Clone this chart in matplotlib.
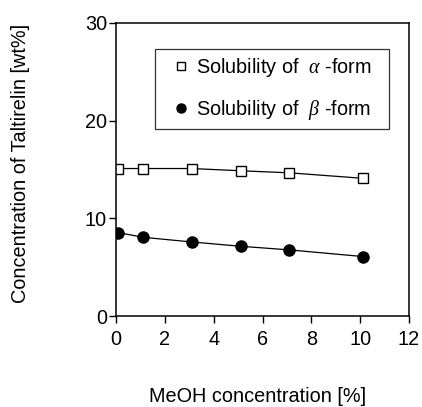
import matplotlib
matplotlib.use("Agg")
import matplotlib.pyplot as plt
from matplotlib.lines import Line2D

plt.rcParams['font.family'] = ['Liberation Sans', 'DejaVu Sans']
plt.rcParams['mathtext.fontset'] = 'custom'
plt.rcParams['mathtext.it'] = 'Liberation Serif:italic'

meoh = [0.1, 1.1, 3.1, 5.1, 7.1, 10.1]
alpha_form = [15.1, 15.1, 15.1, 14.87, 14.66, 14.1]
beta_form = [8.54, 8.06, 7.58, 7.14, 6.77, 6.09]
xticks = [0, 2, 4, 6, 8, 10, 12]
yticks = [0, 10, 20, 30]
labels = ['Solubility of  $\\alpha$ -form', 'Solubility of  $\\beta$ -form']

FS = 14.3
W, H = 422, 407
fig = plt.figure(figsize=(W / 100, H / 100), dpi=100)
ax = fig.add_axes([116 / W, 1 - 316 / H, (409 - 116) / W, (316 - 23) / H])

ax.plot(meoh, alpha_form, '-', color='black', lw=0.9, marker='s', ms=7,
        mfc='white', mec='black', mew=1.0, label=labels[0])
ax.plot(meoh, beta_form, '-', color='black', lw=0.9, marker='o', ms=8,
        mfc='black', mec='black', label=labels[1])

ax.set_xlim(0, 12)
ax.set_ylim(0, 30)
ax.set_xticks(xticks)
ax.set_yticks(yticks)
ax.tick_params(direction='out', length=5, width=1.0, labelsize=FS, color='black')
ax.tick_params(axis='x', pad=5)
ax.tick_params(axis='y', pad=1.5)
for s in ax.spines.values():
    s.set_linewidth(1.1)

handles = [
    Line2D([], [], ls='none', marker='s', ms=5.5, mfc='white', mec='black', mew=1.0),
    Line2D([], [], ls='none', marker='o', ms=6.5, mfc='black', mec='black'),
]
x0 = (155 - 116) / 293
x1 = (389 - 116) / 293
ytop = (316 - 49) / 293
ybot = (316 - 118) / 293
leg = ax.legend(handles, labels, loc='upper left',
                bbox_to_anchor=(x0, ybot, x1 - x0, ytop - ybot), mode='expand',
                borderaxespad=0, fontsize=FS, frameon=True, fancybox=False,
                edgecolor='black', handlelength=1.9, handletextpad=-0.2,
                labelspacing=0.95, borderpad=0.35)
leg.get_frame().set_linewidth(0.9)

fig.text(21 / W, 1 - 163 / H, 'Concentration of Taltirelin [wt%]', rotation=90,
         ha='center', va='center', fontsize=FS)
fig.text(258 / W, 1 - 402 / H, 'MeOH concentration [%]', ha='center', va='baseline',
         fontsize=FS)

fig.savefig('out.png', dpi=100)
